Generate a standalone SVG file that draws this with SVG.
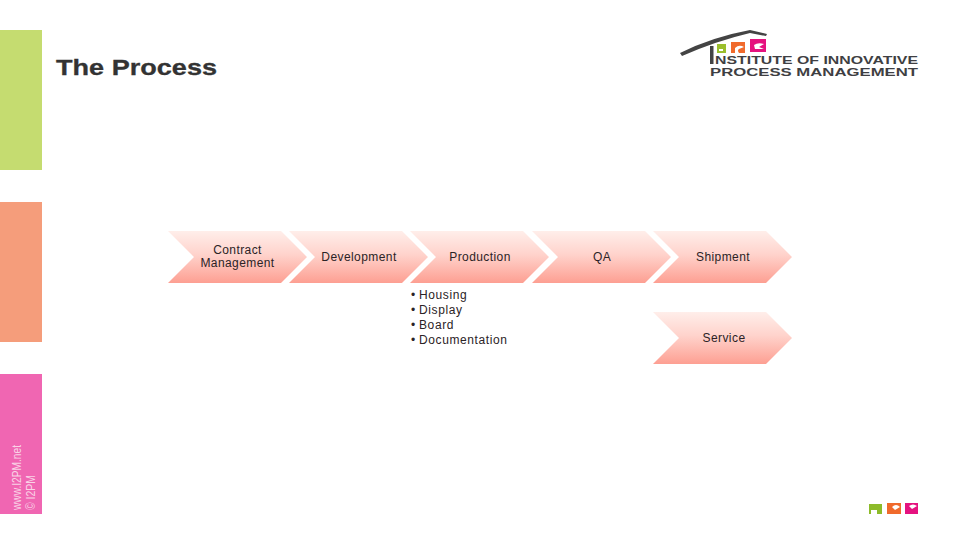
<svg xmlns="http://www.w3.org/2000/svg" width="960" height="540" viewBox="0 0 960 540">
<style>
text{font-family:"Liberation Sans",Arial,sans-serif}
.l{font-size:12px;fill:#2b2326;text-anchor:middle;letter-spacing:.42px}
.b{font-size:12px;fill:#2b2326;letter-spacing:.6px}
.logo{font-size:11.5px;font-weight:bold;fill:#3f3f43}
</style>
<defs>
<linearGradient id="g" x1="0" y1="0" x2="0" y2="1"><stop offset="0" stop-color="#ffeeea"/><stop offset=".45" stop-color="#ffd3cc"/><stop offset="1" stop-color="#fd9f92"/></linearGradient>
<path id="c" d="M0 0H113L139 26L113 52H0L26 26Z" fill="url(#g)"/>
</defs>
<rect width="960" height="540" fill="#fff"/>
<g id="sidebar">
<rect x="0" y="30" width="42" height="140" fill="#c5dc70"/>
<rect x="0" y="202" width="42" height="140" fill="#f59d7b"/>
<rect x="0" y="374" width="42" height="140" fill="#f066b2"/>
<text transform="translate(21 510) rotate(-90)" font-size="12" fill="#f9d3e6" textLength="65" lengthAdjust="spacingAndGlyphs">www.I2PM.net</text>
<text transform="translate(34.500 510) rotate(-90)" font-size="12" fill="#f9d3e6" textLength="35" lengthAdjust="spacingAndGlyphs">© I2PM</text>
</g>
<text id="title" x="56" y="75" font-size="22" font-weight="bold" fill="#333" stroke="#333" stroke-width=".3" textLength="161" lengthAdjust="spacingAndGlyphs">The Process</text>
<g id="logo">
<path d="M680 53Q712 37 750 30L767 34L766 36L750 33Q716 41 682 56Z" fill="#444"/>
<rect x="710" y="46" width="3.5" height="18" fill="#444"/>
<path d="M717 44H726V53H717Z" fill="#9bbf2d"/>
<path d="M719 49H723V51H719Z" fill="#fff"/>
<path d="M731 42H745V53H731Z" fill="#f06a2c"/>
<path d="M735 48Q739 44 744 47L739 49Q737 50 739 53H735Z" fill="#fff"/>
<path d="M750 39H766V52H750Z" fill="#e5127f"/>
<path d="M754 45Q758 42 764 44L759 47L764 49L755 49Z" fill="#fff"/>
<text class="logo" x="715" y="63.500" textLength="203" lengthAdjust="spacingAndGlyphs">NSTITUTE OF INNOVATIVE</text>
<text class="logo" x="710" y="76" textLength="208" lengthAdjust="spacingAndGlyphs">PROCESS MANAGEMENT</text>
</g>
<g id="contract"><use href="#c" x="168" y="231"/><text class="l" x="237.500" y="253.500">Contract</text><text class="l" x="237.500" y="266.500">Management</text></g>
<g id="development"><use href="#c" x="289" y="231"/><text class="l" x="359" y="260.500">Development</text></g>
<g id="production"><use href="#c" x="410" y="231"/><text class="l" x="480" y="260.500">Production</text></g>
<g id="qa"><use href="#c" x="532" y="231"/><text class="l" x="602" y="260.500">QA</text></g>
<g id="shipment"><use href="#c" x="653" y="231"/><text class="l" x="723" y="260.500">Shipment</text></g>
<g id="service"><use href="#c" x="653" y="312"/><text class="l" x="724" y="341.500">Service</text></g>
<g id="list">
<text class="b" x="411" y="299">•</text><text class="b" x="419" y="299">Housing</text>
<text class="b" x="411" y="314">•</text><text class="b" x="419" y="314">Display</text>
<text class="b" x="411" y="329">•</text><text class="b" x="419" y="329">Board</text>
<text class="b" x="411" y="344">•</text><text class="b" x="419" y="344">Documentation</text>
</g>
<g id="footer-logo">
<path d="M869 504H882V514H869Z" fill="#8dbb2a"/><path d="M871 510H877V514H871Z" fill="#fff"/>
<path d="M887 503H901V514H887Z" fill="#f06a2c"/><path d="M892 507Q896 503 900 507L895 510Z" fill="#fff"/>
<path d="M905 503H918V514H905Z" fill="#e5127f"/><path d="M909 506Q913 503 917 506L912 509Z" fill="#fff"/>
</g>
<g id="connectors"/>
</svg>
